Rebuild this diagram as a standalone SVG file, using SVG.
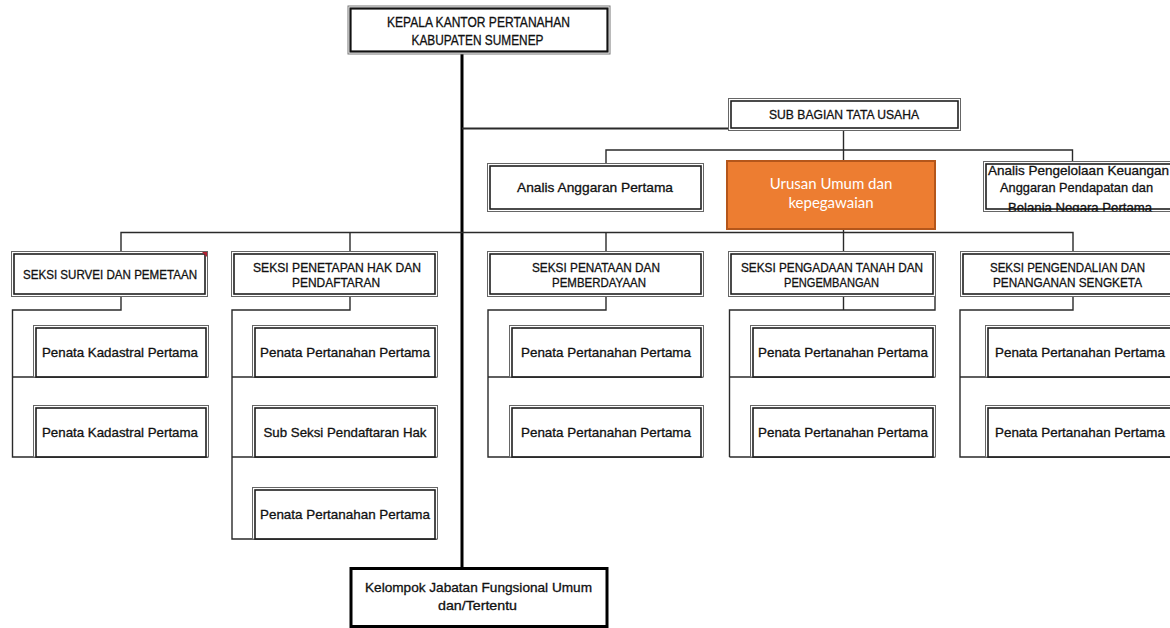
<svg xmlns="http://www.w3.org/2000/svg" width="1170" height="628" viewBox="0 0 1170 628">
<style>
.o{fill:#fff;stroke:#666;stroke-width:1}
.i{fill:none;stroke:#1e1e1e;stroke-width:1.6}
.ln{fill:none;stroke:#2a2a2a;stroke-width:1.4}
.tr{fill:none;stroke:#000;stroke-width:3}
.t{font-family:"Liberation Sans Narrow","Liberation Sans",Arial,sans-serif;font-size:13px;fill:#111;stroke:#111;stroke-width:0.3;text-anchor:middle}
.tw{font-family:Lato,"Open Sans",sans-serif;font-size:15px;fill:#fff;text-anchor:middle}
</style>
<defs>
<clipPath id="cp"><rect x="983" y="160" width="190" height="51.5"/></clipPath>
</defs>
<rect width="1170" height="628" fill="#fff"/>
<g id="connectors">
<line class="tr" x1="462" y1="53" x2="462" y2="568"/>
<line class="ln" x1="462" y1="128.5" x2="729" y2="128.5" style="stroke-width:2"/>
<polyline class="ln" points="606,164 606,150 1072.5,150 1072.5,162"/>
<line class="ln" x1="843.5" y1="130" x2="843.5" y2="161"/>
<line class="ln" x1="843.5" y1="229" x2="843.5" y2="252"/>
<polyline class="ln" points="121,252 121,232.5 1073,232.5 1073,252"/>
<line class="ln" x1="350" y1="232.5" x2="350" y2="252"/>
<line class="ln" x1="606" y1="232.5" x2="606" y2="252"/>
<polyline class="ln" points="121,297 121,310 12.5,310 12.5,457 208,457"/>
<line class="ln" x1="12.5" y1="377" x2="208" y2="377"/>
<polyline class="ln" points="350,297 350,310 232,310 232,539 437,539"/>
<line class="ln" x1="232" y1="377" x2="437" y2="377"/>
<line class="ln" x1="232" y1="457" x2="437" y2="457"/>
<polyline class="ln" points="606,297 606,310 488,310 488,457 703,457"/>
<line class="ln" x1="488" y1="377" x2="703" y2="377"/>
<polyline class="ln" points="729.5,457 729.5,310 935,310 935,297"/>
<line class="ln" x1="843.5" y1="297" x2="843.5" y2="310"/>
<line class="ln" x1="729.5" y1="377" x2="935" y2="377"/>
<line class="ln" x1="729.5" y1="457" x2="935" y2="457"/>
<polyline class="ln" points="1073,297 1073,310 960,310 960,457 1172,457"/>
<line class="ln" x1="960" y1="377" x2="1172" y2="377"/>
</g>

<g id="kepala">
<rect x="348" y="6" width="262" height="48" fill="#fff" stroke="#777" stroke-width="1"/>
<rect x="350.5" y="8.5" width="257" height="43" fill="none" stroke="#111" stroke-width="2.2"/>
<text class="t" x="478.5" y="26.5" style="font-size:14px" textLength="183" lengthAdjust="spacingAndGlyphs">KEPALA KANTOR PERTANAHAN</text>
<text class="t" x="477.5" y="44.5" style="font-size:14px" textLength="132" lengthAdjust="spacingAndGlyphs">KABUPATEN SUMENEP</text>
</g>

<g id="subbagian">
<rect class="o" x="728.5" y="98.5" width="232" height="32"/>
<rect class="i" x="731" y="101" width="227" height="27"/>
<text class="t" x="844" y="119" textLength="150" lengthAdjust="spacingAndGlyphs">SUB BAGIAN TATA USAHA</text>
</g>

<g id="analis-anggaran">
<rect class="o" x="487.5" y="163.5" width="216" height="48"/>
<rect class="i" x="490" y="166" width="211" height="43"/>
<text class="t" x="595" y="192" textLength="156" lengthAdjust="spacingAndGlyphs">Analis Anggaran Pertama</text>
</g>

<g id="urusan-umum">
<rect x="727" y="161" width="208" height="68" fill="#ED7D31" stroke="#B5561A" stroke-width="2"/>
<text class="tw" x="831" y="189">Urusan Umum dan</text>
<text class="tw" x="831" y="208">kepegawaian</text>
</g>

<g id="analis-pengelolaan">
<rect class="o" x="983.5" y="161.5" width="190" height="50"/>
<rect class="i" x="986" y="164" width="186" height="45"/>
<g clip-path="url(#cp)">
<text class="t" x="1078.5" y="175" style="font-size:13px" textLength="181" lengthAdjust="spacingAndGlyphs">Analis Pengelolaan Keuangan</text>
<text class="t" x="1076.5" y="192" style="font-size:13px" textLength="153" lengthAdjust="spacingAndGlyphs">Anggaran Pendapatan dan</text>
<text class="t" x="1080" y="211.5" style="font-size:13px" textLength="144" lengthAdjust="spacingAndGlyphs">Belanja Negara Pertama</text>
</g>
</g>

<g id="seksi-survei">
<rect class="o" x="11.5" y="251.5" width="196" height="45"/>
<rect class="i" x="14" y="254" width="191" height="40"/>
<polygon points="202,252 207,252 207,257" fill="#b02030"/>
<text class="t" x="110" y="279" textLength="174" lengthAdjust="spacingAndGlyphs">SEKSI SURVEI DAN PEMETAAN</text>
</g>
<g id="seksi-penetapan">
<rect class="o" x="231.5" y="251.5" width="206" height="45"/>
<rect class="i" x="234" y="254" width="201" height="40"/>
<text class="t" x="337" y="271.5" textLength="168" lengthAdjust="spacingAndGlyphs">SEKSI PENETAPAN HAK DAN</text>
<text class="t" x="336" y="287" textLength="88" lengthAdjust="spacingAndGlyphs">PENDAFTARAN</text>
</g>
<g id="seksi-penataan">
<rect class="o" x="487.5" y="251.5" width="216" height="45"/>
<rect class="i" x="490" y="254" width="211" height="40"/>
<text class="t" x="596" y="271.5" textLength="128" lengthAdjust="spacingAndGlyphs">SEKSI PENATAAN DAN</text>
<text class="t" x="599" y="287" textLength="94" lengthAdjust="spacingAndGlyphs">PEMBERDAYAAN</text>
</g>
<g id="seksi-pengadaan">
<rect class="o" x="728.5" y="251.5" width="207" height="45"/>
<rect class="i" x="731" y="254" width="202" height="40"/>
<text class="t" x="832" y="271.5" textLength="182" lengthAdjust="spacingAndGlyphs">SEKSI PENGADAAN TANAH DAN</text>
<text class="t" x="831.5" y="287" textLength="95" lengthAdjust="spacingAndGlyphs">PENGEMBANGAN</text>
</g>
<g id="seksi-pengendalian">
<rect class="o" x="960.5" y="251.5" width="212" height="45"/>
<rect class="i" x="963" y="254" width="210" height="40"/>
<text class="t" x="1067.5" y="271.5" textLength="155" lengthAdjust="spacingAndGlyphs">SEKSI PENGENDALIAN DAN</text>
<text class="t" x="1067.5" y="287" textLength="149" lengthAdjust="spacingAndGlyphs">PENANGANAN SENGKETA</text>
</g>

<g id="survei-1"><rect class="o" x="33.5" y="325.5" width="175" height="51.5"/><rect class="i" x="36" y="328" width="170" height="49"/><text class="t" x="120" y="357" textLength="156" lengthAdjust="spacingAndGlyphs">Penata Kadastral Pertama</text></g>
<g id="survei-2"><rect class="o" x="33.5" y="405.5" width="175" height="51.5"/><rect class="i" x="36" y="408" width="170" height="49"/><text class="t" x="120" y="437" textLength="156" lengthAdjust="spacingAndGlyphs">Penata Kadastral Pertama</text></g>

<g id="penetapan-1"><rect class="o" x="252.5" y="325.5" width="185" height="51.5"/><rect class="i" x="255" y="328" width="180" height="49"/><text class="t" x="345" y="357" textLength="170" lengthAdjust="spacingAndGlyphs">Penata Pertanahan Pertama</text></g>
<g id="penetapan-2"><rect class="o" x="252.5" y="405.5" width="185" height="51.5"/><rect class="i" x="255" y="408" width="180" height="49"/><text class="t" x="345" y="437" textLength="163" lengthAdjust="spacingAndGlyphs">Sub Seksi Pendaftaran Hak</text></g>
<g id="penetapan-3"><rect class="o" x="252.5" y="487.5" width="185" height="51.5"/><rect class="i" x="255" y="490" width="180" height="49"/><text class="t" x="345" y="519" textLength="170" lengthAdjust="spacingAndGlyphs">Penata Pertanahan Pertama</text></g>

<g id="penataan-1"><rect class="o" x="509.5" y="325.5" width="194" height="51.5"/><rect class="i" x="512" y="328" width="189" height="49"/><text class="t" x="606" y="357" textLength="170" lengthAdjust="spacingAndGlyphs">Penata Pertanahan Pertama</text></g>
<g id="penataan-2"><rect class="o" x="509.5" y="405.5" width="194" height="51.5"/><rect class="i" x="512" y="408" width="189" height="49"/><text class="t" x="606" y="437" textLength="170" lengthAdjust="spacingAndGlyphs">Penata Pertanahan Pertama</text></g>

<g id="pengadaan-1"><rect class="o" x="750.5" y="325.5" width="185" height="51.5"/><rect class="i" x="753" y="328" width="180" height="49"/><text class="t" x="843" y="357" textLength="170" lengthAdjust="spacingAndGlyphs">Penata Pertanahan Pertama</text></g>
<g id="pengadaan-2"><rect class="o" x="750.5" y="405.5" width="185" height="51.5"/><rect class="i" x="753" y="408" width="180" height="49"/><text class="t" x="843" y="437" textLength="170" lengthAdjust="spacingAndGlyphs">Penata Pertanahan Pertama</text></g>

<g id="pengendalian-1"><rect class="o" x="985.5" y="325.5" width="190" height="51.5"/><rect class="i" x="988" y="328" width="186" height="49"/><text class="t" x="1080" y="357" textLength="170" lengthAdjust="spacingAndGlyphs">Penata Pertanahan Pertama</text></g>
<g id="pengendalian-2"><rect class="o" x="985.5" y="405.5" width="190" height="51.5"/><rect class="i" x="988" y="408" width="186" height="49"/><text class="t" x="1080" y="437" textLength="170" lengthAdjust="spacingAndGlyphs">Penata Pertanahan Pertama</text></g>

<g id="kelompok">
<rect x="351" y="568.5" width="256" height="58" fill="#fff" stroke="#000" stroke-width="3"/>
<text class="t" x="478.5" y="592" textLength="227" lengthAdjust="spacingAndGlyphs">Kelompok Jabatan Fungsional Umum</text>
<text class="t" x="477.5" y="610" textLength="79" lengthAdjust="spacingAndGlyphs">dan/Tertentu</text>
</g>
</svg>
